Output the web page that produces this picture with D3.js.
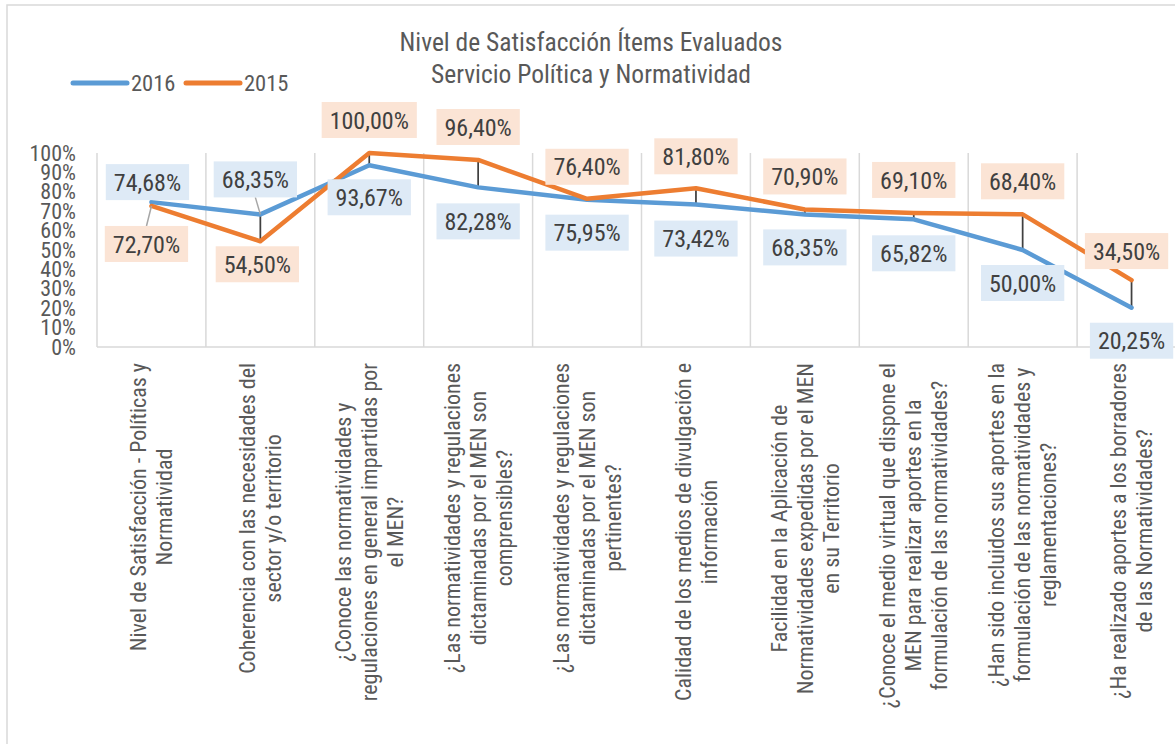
<!DOCTYPE html>
<html>
<head>
<meta charset="utf-8">
<script src="https://cdn.jsdelivr.net/npm/d3@7"></script>
<style>
  body { margin: 0; background: #fff; }
  text { font-family: "Roboto Condensed", "Liberation Sans", sans-serif; }
</style>
</head>
<body>
<div class="chart"></div>
<script>
var svgWidth = 1175;
var svgHeight = 744;

// categories (one entry per line of the wrapped label)
var categories = [
  ["Nivel de Satisfacción - Políticas y", "Normatividad"],
  ["Coherencia con las necesidades del", "sector y/o territorio"],
  ["¿Conoce las normatividades y", "regulaciones en general impartidas por", "el MEN?"],
  ["¿Las normatividades y regulaciones", "dictaminadas por el MEN son", "comprensibles?"],
  ["¿Las normatividades y regulaciones", "dictaminadas por el MEN son", "pertinentes?"],
  ["Calidad de los medios de divulgación e", "información"],
  ["Facilidad en la Aplicación de", "Normatividades expedidas por el MEN", "en su Territorio"],
  ["¿Conoce el medio virtual que dispone el", "MEN para realizar aportes en la", "formulación de las normatividades?"],
  ["¿Han sido incluidos sus aportes en la", "formulación de las normatividades y", "reglamentaciones?"],
  ["¿Ha realizado aportes a los borradores", "de las Normatividades?"]
];

var values2016 = [74.68, 68.35, 93.67, 82.28, 75.95, 73.42, 68.35, 65.82, 50.00, 20.25];
var values2015 = [72.70, 54.50, 100.00, 96.40, 76.40, 81.80, 70.90, 69.10, 68.40, 34.50];

var yTicks = [0, 10, 20, 30, 40, 50, 60, 70, 80, 90, 100];

var seriesNames = ["2016", "2015"];
var seriesColors = ["#5b9bd5", "#ed7d31"];
var boxColors = ["#deeaf6", "#fbe4d5"];

// label placement (offset of the label box centre from its point, px)
var labelOffset2016 = [[-4, -20], [-5, -35], [0, 32], [0, 34], [0, 33], [0, 34], [0, 33], [0, 34], [0, 33], [0, 33]];
var labelOffset2015 = [[-5, 38], [-3, 23], [0, -33], [0, -33], [0, -32], [0, -32], [0, -33], [0, -33], [0, -33], [-5, -29]];

var plot = { left: 97, right: 1186, top: 153, bottom: 347 };

var svg = d3.select(".chart")
  .append("svg")
  .attr("width", svgWidth)
  .attr("height", svgHeight);

// chart border
svg.append("rect")
  .attr("x", 7).attr("y", 5)
  .attr("width", 1200).attr("height", 760)
  .attr("fill", "#fff")
  .attr("stroke", "#d9d9d9")
  .attr("stroke-width", 1.5);

var x = d3.scaleBand()
  .domain(d3.range(categories.length))
  .range([plot.left, plot.right])
  .padding(0);

var y = d3.scaleLinear()
  .domain([0, 100])
  .range([plot.bottom, plot.top]);

// title
var title = svg.append("text")
  .attr("text-anchor", "middle")
  .attr("fill", "#595959")
  .style("font-size", "25.5px");
title.append("tspan").attr("x", 591).attr("y", 51).text("Nivel de Satisfacción Ítems Evaluados");
title.append("tspan").attr("x", 591).attr("y", 83).text("Servicio Política y Normatividad");

// legend
var legend = svg.append("g");
[[73, 131], [186, 244]].forEach(function(p, i) {
  legend.append("line")
    .attr("x1", p[0]).attr("x2", p[0] + 54)
    .attr("y1", 83).attr("y2", 83)
    .attr("stroke", seriesColors[i])
    .attr("stroke-width", 5)
    .attr("stroke-linecap", "round");
  legend.append("text")
    .attr("x", p[1]).attr("y", 91)
    .attr("fill", "#595959")
    .style("font-size", "22.5px")
    .text(seriesNames[i]);
});

// vertical gridlines at category boundaries
var bounds = d3.range(categories.length + 1).map(function(i) {
  return plot.left + i * x.bandwidth();
});
svg.append("g").selectAll("line")
  .data(bounds)
  .enter()
  .append("line")
  .attr("x1", function(d) { return d; })
  .attr("x2", function(d) { return d; })
  .attr("y1", plot.top)
  .attr("y2", plot.bottom)
  .attr("stroke", "#d9d9d9")
  .attr("stroke-width", 1.5);

// x axis line
svg.append("line")
  .attr("x1", plot.left).attr("x2", plot.right)
  .attr("y1", plot.bottom).attr("y2", plot.bottom)
  .attr("stroke", "#d9d9d9")
  .attr("stroke-width", 1.5);

// y axis labels
var leftAxis = d3.axisLeft(y)
  .tickValues(yTicks)
  .tickSize(0)
  .tickPadding(21)
  .tickFormat(function(d) { return d + "%"; });

var yAxis = svg.append("g")
  .attr("transform", "translate(" + plot.left + ",0)")
  .call(leftAxis);
yAxis.select(".domain").remove();
yAxis.selectAll("text")
  .attr("fill", "#595959")
  .style("font-size", "22px")
  .style("font-family", "'Roboto Condensed', sans-serif");

// x category labels, rotated
var catG = svg.append("g");
categories.forEach(function(lines, i) {
  var cx = x(i) + x.bandwidth() / 2;
  var lh = 26;
  var g = catG.append("g")
    .attr("transform", "translate(" + cx + "," + 363 + ") rotate(-90)");
  var texts = lines.map(function(line, j) {
    return g.append("text")
      .attr("text-anchor", "middle")
      .attr("fill", "#595959")
      .style("font-size", "22px")
      .attr("y", (j - (lines.length - 1) / 2) * lh)
      .attr("dy", "0.35em")
      .text(line);
  });
  var maxLen = d3.max(texts, function(t) { return t.node().getComputedTextLength(); });
  texts.forEach(function(t) { t.attr("x", -maxLen / 2); });
});

// high-low lines
svg.append("g").selectAll("line")
  .data(values2016)
  .enter()
  .append("line")
  .attr("x1", function(d, i) { return x(i) + x.bandwidth() / 2; })
  .attr("x2", function(d, i) { return x(i) + x.bandwidth() / 2; })
  .attr("y1", function(d) { return y(d); })
  .attr("y2", function(d, i) { return y(values2015[i]); })
  .attr("stroke", "#404040")
  .attr("stroke-width", 1.75);

// series lines
var line = d3.line()
  .x(function(d, i) { return x(i) + x.bandwidth() / 2; })
  .y(function(d) { return y(d); });

[values2016, values2015].forEach(function(vals, s) {
  svg.append("path")
    .datum(vals)
    .attr("d", line)
    .attr("fill", "none")
    .attr("stroke", seriesColors[s])
    .attr("stroke-width", 4.5)
    .attr("stroke-linejoin", "round")
    .attr("stroke-linecap", "round");
});

// data labels
function fmt(v) { return v.toFixed(2).replace(".", ",") + "%"; }

var labelG = svg.append("g");
[[values2016, labelOffset2016], [values2015, labelOffset2015]].forEach(function(pair, s) {
  pair[0].forEach(function(v, i) {
    var px = x(i) + x.bandwidth() / 2;
    var py = y(v);
    var lx = px + pair[1][i][0];
    var ly = py + pair[1][i][1];
    var g = labelG.append("g");
    var rect = g.append("rect").attr("fill", boxColors[s]);
    var t = g.append("text")
      .attr("x", lx).attr("y", ly)
      .attr("dy", "0.36em")
      .attr("text-anchor", "middle")
      .attr("fill", "#404040")
      .style("font-size", "24px")
      .text(fmt(v));
    var w = t.node().getComputedTextLength() + 16;
    rect.attr("x", lx - w / 2).attr("y", ly - 18).attr("width", w).attr("height", 36);
    // leader lines for the two labels placed away from their points
    var edge = ly + (pair[1][i][1] > 0 ? -18 : 18);
    if (i < 2 && Math.abs(pair[1][i][1]) < 40 && ((s === 1 && i === 0) || (s === 0 && i === 1))) {
      labelG.insert("line", ":first-child")
        .attr("x1", lx).attr("y1", edge)
        .attr("x2", px).attr("y2", py)
        .attr("stroke", "#a6a6a6")
        .attr("stroke-width", 1.5);
    }
  });
});
</script>
</body>
</html>
